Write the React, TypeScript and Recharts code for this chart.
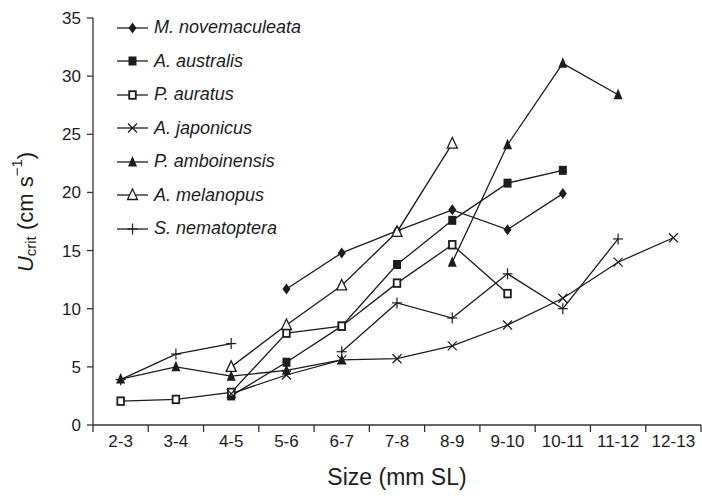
import { Legend, Line, LineChart, XAxis, YAxis } from 'recharts'

const CATEGORIES = ['2-3', '3-4', '4-5', '5-6', '6-7', '7-8', '8-9', '9-10', '10-11', '11-12', '12-13']
const Y_TICKS = [0, 5, 10, 15, 20, 25, 30, 35]

// Ucrit values, one array per species (null = no data)
const novemaculeata = [null, null, null, 11.7, 14.8, 16.7, 18.5, 16.8, 19.9, null, null]
const australis = [null, null, 2.5, 5.4, 8.5, 13.8, 17.6, 20.8, 21.9, null, null]
const auratus = [2.05, 2.2, 2.8, 7.9, 8.5, 12.2, 15.5, 11.3, null, null, null]
const japonicus = [null, null, 2.7, 4.3, 5.6, 5.7, 6.8, 8.6, 10.9, 14.0, 16.1]
const amboinensis = [3.95, 5.0, 4.2, 4.7, 5.6, null, 14.0, 24.1, 31.1, 28.4, null]
const melanopus = [null, null, 5.0, 8.6, 12.0, 16.6, 24.2, null, null, null, null]
const nematoptera = [3.9, 6.1, 7.0, null, 6.3, 10.5, 9.2, 13.0, 10.0, 16.0, null]

type MarkerKind = 'diamond' | 'square' | 'openSquare' | 'cross' | 'triangle' | 'openTriangle' | 'plus'

const SERIES: { key: string; name: string; values: (number | null)[]; marker: MarkerKind }[] = [
  { key: 'nov', name: 'M. novemaculeata', values: novemaculeata, marker: 'diamond' },
  { key: 'aus', name: 'A. australis', values: australis, marker: 'square' },
  { key: 'aur', name: 'P. auratus', values: auratus, marker: 'openSquare' },
  { key: 'jap', name: 'A. japonicus', values: japonicus, marker: 'cross' },
  { key: 'amb', name: 'P. amboinensis', values: amboinensis, marker: 'triangle' },
  { key: 'mel', name: 'A. melanopus', values: melanopus, marker: 'openTriangle' },
  { key: 'nem', name: 'S. nematoptera', values: nematoptera, marker: 'plus' },
]

const data = CATEGORIES.map((cat, i) => {
  const row: Record<string, number | string | null> = { x: i + 0.5, cat }
  SERIES.forEach((s) => {
    row[s.key] = s.values[i]
  })
  return row
})

const W = 702
const H = 496
const LEFT = 93
const RIGHT = 1
const INK = '#1c1c1c'
const FONT = '"Liberation Sans", Arial, sans-serif'
const STEP = (W - LEFT - RIGHT) / CATEGORIES.length

function Marker({ kind, cx, cy }: { kind: MarkerKind; cx: number; cy: number }) {
  switch (kind) {
    case 'diamond':
      return <polygon points={`${cx},${cy - 5.5} ${cx + 4},${cy} ${cx},${cy + 5.5} ${cx - 4},${cy}`} fill={INK} />
    case 'square':
      return <rect x={cx - 4} y={cy - 4.5} width={8} height={9} fill={INK} />
    case 'openSquare':
      return <rect x={cx - 3.3} y={cy - 3.8} width={6.6} height={7.6} fill="#fff" stroke={INK} strokeWidth={1.8} />
    case 'cross':
      return (
        <g stroke={INK} strokeWidth={1.2}>
          <line x1={cx - 4.5} y1={cy - 4.5} x2={cx + 4.5} y2={cy + 4.5} />
          <line x1={cx - 4.5} y1={cy + 4.5} x2={cx + 4.5} y2={cy - 4.5} />
        </g>
      )
    case 'triangle':
      return <polygon points={`${cx},${cy - 6} ${cx + 4.5},${cy + 4.5} ${cx - 4.5},${cy + 4.5}`} fill={INK} />
    case 'openTriangle':
      return (
        <polygon
          points={`${cx},${cy - 6} ${cx + 5},${cy + 4.5} ${cx - 5},${cy + 4.5}`}
          fill="#fff"
          stroke={INK}
          strokeWidth={1.3}
        />
      )
    case 'plus':
      return (
        <g stroke={INK} strokeWidth={1.2}>
          <line x1={cx - 5} y1={cy} x2={cx + 5} y2={cy} />
          <line x1={cx} y1={cy - 5.5} x2={cx} y2={cy + 5.5} />
        </g>
      )
  }
}

function makeDot(kind: MarkerKind) {
  return (props: any) => {
    const { cx, cy, value, key, index } = props
    if (value == null || cx == null || cy == null) return <g key={key ?? index} />
    return (
      <g key={key ?? index}>
        <Marker kind={kind} cx={cx} cy={cy} />
      </g>
    )
  }
}

function XTick(props: any) {
  const { x, y, payload } = props
  const label = CATEGORIES[payload.value]
  if (!label) return <g />
  return (
    <text x={x + STEP / 2} y={y + 13} textAnchor="middle" fontSize={17} fill={INK} fontFamily={FONT}>
      {label}
    </text>
  )
}

function YTitle() {
  const cx = 27
  const cy = 212
  return (
    <text
      x={cx}
      y={cy}
      transform={`rotate(-90, ${cx}, ${cy})`}
      textAnchor="middle"
      fontSize={22}
      fill={INK}
      fontFamily={FONT}
      dominantBaseline="middle"
    >
      <tspan fontStyle="italic">U</tspan>
      <tspan fontSize={15} dy={5}>crit</tspan>
      <tspan dy={-5}> (cm s</tspan>
      <tspan fontSize={15} dy={-9}>−1</tspan>
      <tspan dy={9}>)</tspan>
    </text>
  )
}

function LegendBox() {
  return (
    <div style={{ fontFamily: FONT, fontStyle: 'italic', fontSize: 18, color: INK }}>
      {SERIES.map((s) => (
        <div key={s.key} style={{ display: 'flex', alignItems: 'center', height: 33.5 }}>
          <svg width={34} height={16} style={{ marginRight: 3 }}>
            <line x1={0} y1={8} x2={31} y2={8} stroke={INK} strokeWidth={1.3} />
            <Marker kind={s.marker} cx={15.5} cy={8} />
          </svg>
          <span>{s.name}</span>
        </div>
      ))}
    </div>
  )
}

export default function App() {
  return (
    <div style={{ position: 'absolute', left: 0, top: 0, background: '#fff' }}>
      <LineChart width={W} height={H} data={data} margin={{ top: 18, right: RIGHT, bottom: 0, left: 0 }}>
        <XAxis
          dataKey="x"
          type="number"
          domain={[0, CATEGORIES.length]}
          ticks={CATEGORIES.map((_, i) => i).concat(CATEGORIES.length)}
          interval={0}
          height={71}
          tick={<XTick />}
          tickSize={7}
          stroke="#333"
          axisLine={{ stroke: '#333', strokeWidth: 1.3 }}
          tickLine={{ stroke: '#333', strokeWidth: 1.3 }}
          label={{
            value: 'Size (mm SL)',
            position: 'insideBottom',
            offset: 11,
            fontSize: 23,
            fill: INK,
            fontFamily: FONT,
          }}
        />
        <YAxis
          type="number"
          domain={[0, 35]}
          ticks={Y_TICKS}
          interval={0}
          width={LEFT}
          tickSize={6}
          tickMargin={6}
          tick={{ fontSize: 17, fill: INK, fontFamily: FONT }}
          axisLine={{ stroke: '#333', strokeWidth: 1.3 }}
          tickLine={{ stroke: '#333', strokeWidth: 1.3 }}
          label={<YTitle />}
        />
        <Legend
          layout="horizontal"
          verticalAlign="middle"
          align="center"
          wrapperStyle={{ top: 11, left: 117, width: 'auto' }}
          content={<LegendBox />}
        />
        {SERIES.map((s) => (
          <Line
            key={s.key}
            dataKey={s.key}
            name={s.name}
            type="linear"
            stroke={INK}
            strokeWidth={1.3}
            dot={makeDot(s.marker)}
            activeDot={false}
            isAnimationActive={false}
          />
        ))}
      </LineChart>
    </div>
  )
}
